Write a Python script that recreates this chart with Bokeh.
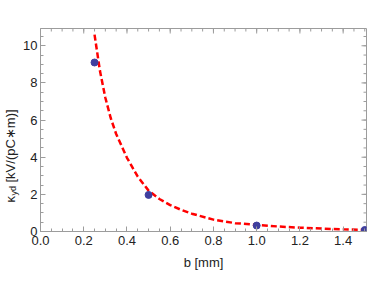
from bokeh.plotting import figure
from bokeh.layouts import row
from bokeh.models import LinearAxis, FixedTicker, Range1d, NumeralTickFormatter, Label
from bokeh.embed import file_html
from bokeh.resources import INLINE

# measured points
b_points = [0.25, 0.5, 1.0, 1.5]
kappa_points = [9.1, 1.97, 0.32, 0.08]

# fitted curve
b_fit = [0.25, 0.275, 0.30, 0.325, 0.35, 0.40, 0.45, 0.50, 0.55, 0.60, 0.65,
         0.70, 0.80, 0.90, 1.00, 1.10, 1.20, 1.30, 1.40, 1.50]
kappa_fit = [10.6, 8.65, 7.2, 6.1, 5.25, 3.97, 2.95, 2.2, 1.75, 1.42, 1.17,
             0.96, 0.64, 0.45, 0.355, 0.27, 0.206, 0.157, 0.119, 0.09]

x_major = [0.0, 0.2, 0.4, 0.6, 0.8, 1.0, 1.2, 1.4]
x_minor = [round(i * 0.05, 2) for i in range(31)]
y_major = [0, 2, 4, 6, 8, 10]
y_minor = [i * 0.5 for i in range(22)]

y_label_parts = ["κ", "yd", "[kV/(pC∗m)]"]
x_label = "b [mm]"

X_MAX = 1.508
Y_MAX = 10.93

FONT = "Liberation Sans"
FRAME = "#9c9c9c"
TXT = "#222222"
H = 281
LW = 20  # width of the strip holding the y label

# ---- strip with the rotated y-axis label ----
lab = figure(frame_width=LW, frame_height=H, output_backend="svg",
             toolbar_location=None, title=None,
             x_range=Range1d(0, 1), y_range=Range1d(0, 1),
             min_border_left=0, min_border_right=0, min_border_top=0,
             min_border_bottom=0, x_axis_type=None, y_axis_type=None)
lab.outline_line_color = None
lab.xgrid.visible = False
lab.ygrid.visible = False
lab.border_fill_color = "white"
base_x = 10
start_y = 107
lab.add_layout(Label(x=base_x, y=start_y, x_units="screen", y_units="screen",
                     text=y_label_parts[0], angle=1.5708, text_align="left",
                     text_baseline="alphabetic", text_font=FONT,
                     text_font_size="13px", text_color=TXT))
lab.add_layout(Label(x=base_x + 3, y=start_y + 7, x_units="screen",
                     y_units="screen", text=y_label_parts[1], angle=1.5708,
                     text_align="left", text_baseline="alphabetic",
                     text_font=FONT, text_font_size="9px", text_color=TXT))
lab.add_layout(Label(x=base_x, y=start_y + 20, x_units="screen",
                     y_units="screen", text=y_label_parts[2], angle=1.5708,
                     text_align="left", text_baseline="alphabetic",
                     text_font=FONT, text_font_size="13px", text_color=TXT))

# ---- main plot ----
p = figure(width=374 - LW, height=H, output_backend="svg", toolbar_location=None,
           x_range=Range1d(0, X_MAX), y_range=Range1d(0, Y_MAX),
           min_border_left=39 - LW, min_border_right=8, min_border_top=28,
           min_border_bottom=50, x_axis_type=None, y_axis_type=None)
p.outline_line_color = FRAME
p.outline_line_width = 1
p.xgrid.visible = False
p.ygrid.visible = False
p.background_fill_color = "white"
p.border_fill_color = "white"


def style_axis(ax):
    ax.axis_line_color = FRAME
    ax.major_tick_line_color = FRAME
    ax.minor_tick_line_color = FRAME
    ax.major_tick_in = 5
    ax.major_tick_out = 0
    ax.minor_tick_in = 3
    ax.minor_tick_out = 0
    ax.major_label_text_font = FONT
    ax.major_label_text_color = TXT
    ax.major_label_text_font_size = "13px"


xb = LinearAxis(ticker=FixedTicker(ticks=x_major, minor_ticks=x_minor),
                formatter=NumeralTickFormatter(format="0.0"))
style_axis(xb)
xb.major_label_standoff = 4
xb.axis_label = x_label
xb.axis_label_text_font = FONT
xb.axis_label_text_font_size = "13px"
xb.axis_label_text_font_style = "normal"
xb.axis_label_text_color = TXT
xb.axis_label_standoff = 7
p.add_layout(xb, "below")

yl = LinearAxis(ticker=FixedTicker(ticks=y_major, minor_ticks=y_minor),
                formatter=NumeralTickFormatter(format="0"))
style_axis(yl)
yl.major_label_standoff = 3
p.add_layout(yl, "left")

# mirrored ticks on top and right edges of the frame
p.ray(x=x_major, y=[Y_MAX] * len(x_major), length=5, length_units="screen",
      angle=-1.5708, line_color=FRAME, line_width=1)
p.ray(x=x_minor, y=[Y_MAX] * len(x_minor), length=3, length_units="screen",
      angle=-1.5708, line_color=FRAME, line_width=1)
p.ray(x=[X_MAX] * len(y_major), y=y_major, length=5, length_units="screen",
      angle=3.14159, line_color=FRAME, line_width=1)
p.ray(x=[X_MAX] * len(y_minor), y=y_minor, length=3, length_units="screen",
      angle=3.14159, line_color=FRAME, line_width=1)

p.line(b_fit, kappa_fit, line_color="#ff0000", line_width=2.5, line_dash="6 3")
p.scatter(b_points, kappa_points, size=7, fill_color="#3f3f9f",
          line_color="#3f3f9f")

layout = row(lab, p, spacing=0)
open("out.html", "w").write(file_html(layout, INLINE))
